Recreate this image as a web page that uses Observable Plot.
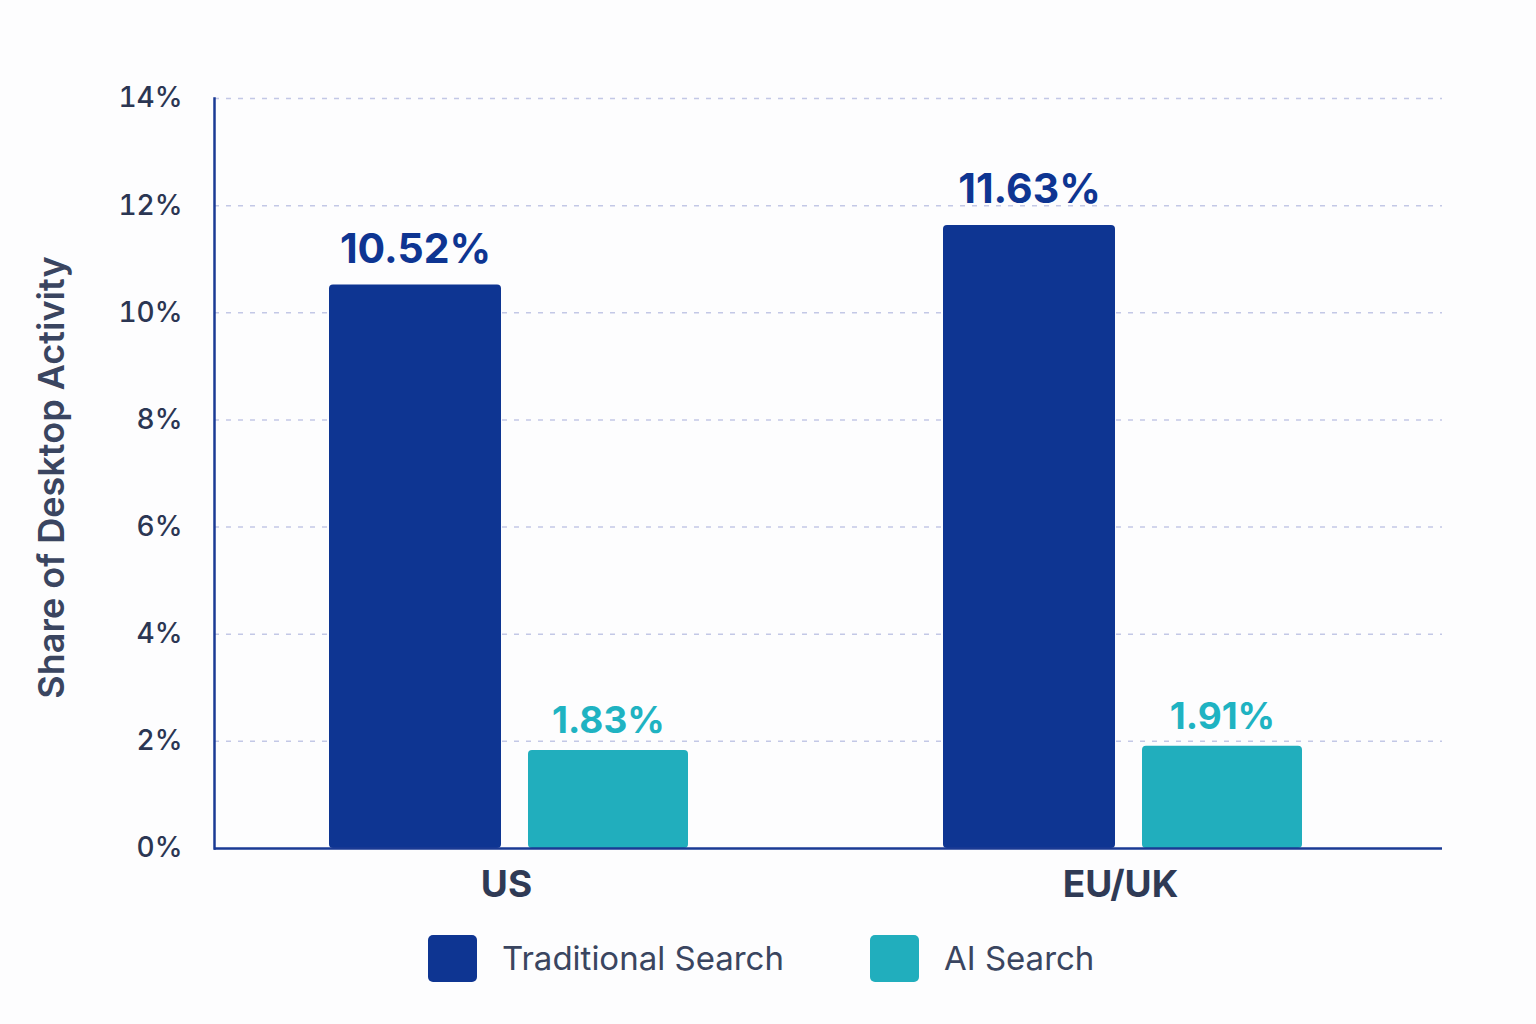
<!DOCTYPE html>
<html><head><meta charset="utf-8">
<script src="https://cdn.jsdelivr.net/npm/d3@7"></script>
<script src="https://cdn.jsdelivr.net/npm/@observablehq/plot@0.6"></script>
<style>
body{margin:0;background:#fdfdfe;font-family:Inter, "Noto Sans", sans-serif;}
#chart{width:1536px;}
.legend{display:flex;align-items:center;padding-left:428px;margin-top:19px;height:48px;}
.item{display:flex;align-items:center;margin-right:86px;}
.sw{width:49px;height:47px;border-radius:5px;margin-right:25px;}
.lab{font-size:33px;color:#3a4560;}
</style></head><body>
<div id="chart"></div>
<div class="legend" id="legend"></div>
<script>
const regions = ["US", "EU/UK"];
const series = ["Traditional Search", "AI Search"];
const traditional = [10.52, 11.63];
const aiSearch = [1.83, 1.91];
const yTicks = [0, 2, 4, 6, 8, 10, 12, 14];
const barColors = ["#0e3592", "#21aebd"];
const labelColors = ["#0e3592", "#1fb3c2"];
const yLabel = "Share of Desktop Activity";

const data = regions.flatMap((r, i) => [
  {region: r, series: series[0], value: traditional[i]},
  {region: r, series: series[1], value: aiSearch[i]}
]);
const tradData = data.filter(d => d.series === series[0]);
const aiData = data.filter(d => d.series === series[1]);

const plot = Plot.plot({
  width: 1536, height: 915,
  marginTop: 98, marginBottom: 67, marginLeft: 213, marginRight: 94,
  style: {fontFamily: "Inter, 'Noto Sans', sans-serif", background: "transparent", overflow: "visible"},
  fx: {domain: regions, padding: 0, label: null, axis: null},
  x: {domain: series, paddingInner: 0.14, paddingOuter: 0.66, align: 0.45, axis: null},
  y: {domain: [0, 14]},
  color: {domain: series, range: barColors},
  marks: [
    Plot.gridY(yTicks.filter(d => d > 0), {stroke: "#c3c8e6", strokeOpacity: 1, strokeDasharray: "5,7", strokeWidth: 1.5}),
    Plot.barY(tradData, {fx: "region", x: "series", y: "value", fill: "series", rx: 4, insetRight: -6}),
    Plot.barY(aiData, {fx: "region", x: "series", y: "value", fill: "series", rx: 4, insetLeft: 6}),
    Plot.text(tradData, {fx: "region", x: "series", y: "value", text: d => d.value.toFixed(2) + "%", fill: labelColors[0], fontSize: 41, fontWeight: 700, lineAnchor: "bottom", dx: 3, dy: -22}),
    Plot.text(aiData, {fx: "region", x: "series", y: "value", text: d => d.value.toFixed(2) + "%", fill: labelColors[1], fontSize: 37, fontWeight: 700, lineAnchor: "bottom", dx: 3, dy: -17}),
    Plot.ruleY([0], {stroke: "#1a3a94", strokeWidth: 2.5}),
    Plot.frame({anchor: "left", facetAnchor: "left", stroke: "#1a3a94", strokeWidth: 2.5}),
    Plot.axisY(yTicks, {tickSize: 0, tickPadding: 32, tickFormat: d => d + "%", fontSize: 28, fontWeight: 500, fill: "#2b3653", label: null}),
    Plot.text([yLabel], {text: d => d, frameAnchor: "left", facetAnchor: "left", textAnchor: "middle", rotate: -90, dx: -162, dy: 4, fontSize: 36, fontWeight: 600, fill: "#3a4560"}),
    Plot.axisFx({anchor: "bottom", tickSize: 0, tickPadding: 22, fontSize: 37, fontWeight: 700, fill: "#2f3a55", label: null, dx: -15})
  ]
});
document.getElementById("chart").appendChild(plot);

const legend = document.getElementById("legend");
series.forEach((s, i) => {
  const it = document.createElement("div"); it.className = "item";
  const sw = document.createElement("div"); sw.className = "sw"; sw.style.background = barColors[i];
  const lb = document.createElement("span"); lb.className = "lab"; lb.textContent = s;
  it.appendChild(sw); it.appendChild(lb); legend.appendChild(it);
});
</script>
</body></html>
